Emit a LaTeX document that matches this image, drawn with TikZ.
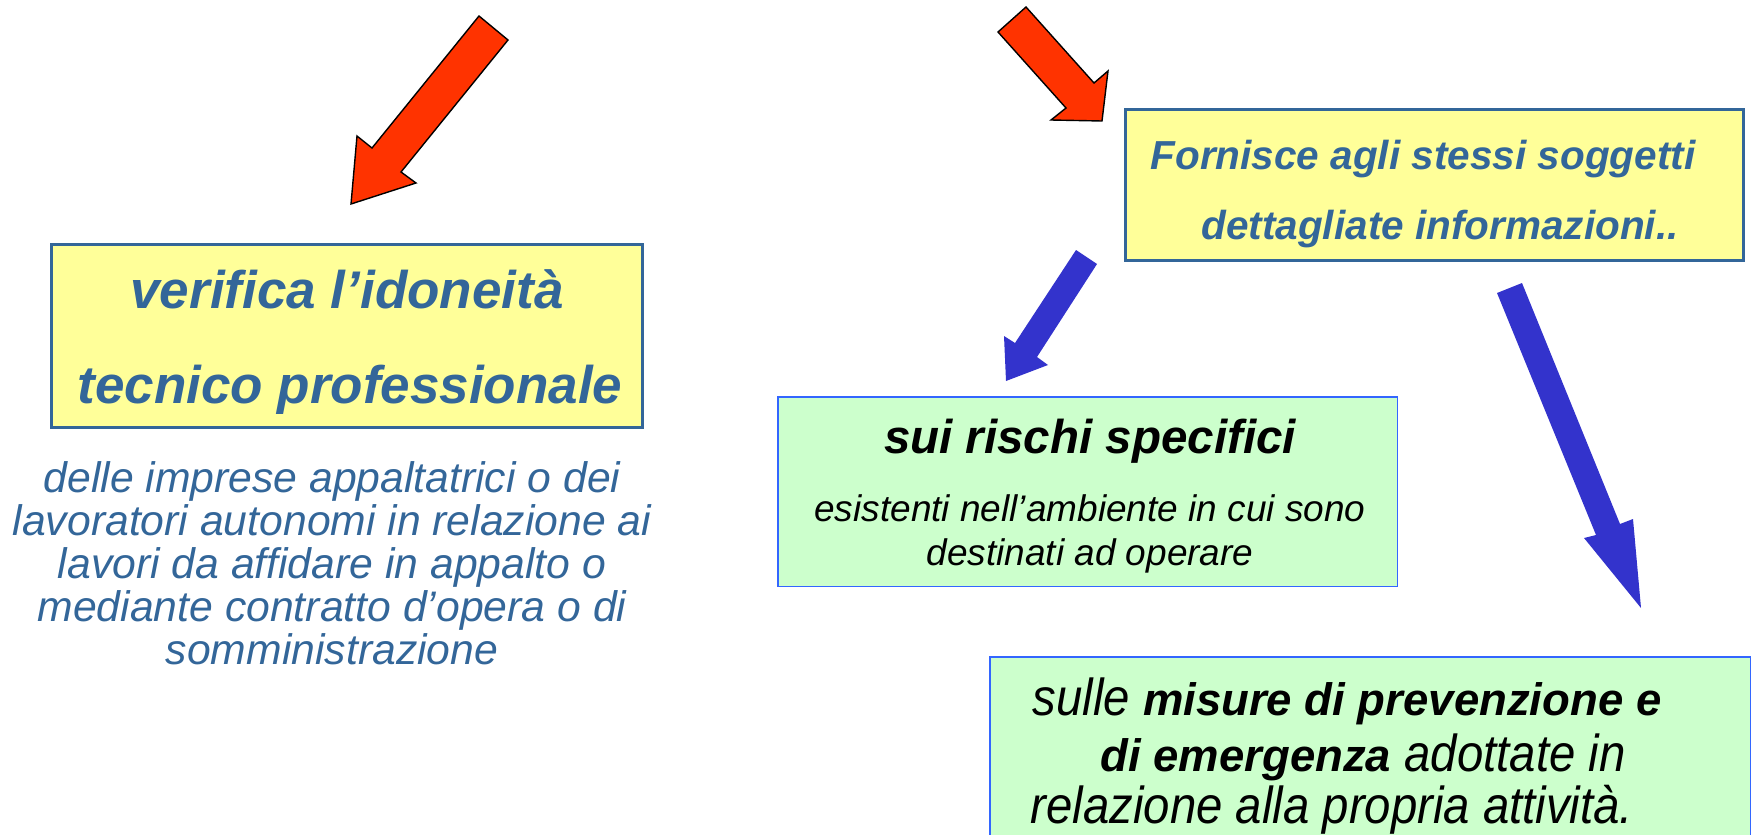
\documentclass[tikz,border=0pt]{standalone}
\usepackage{fontspec}
\setmainfont{Liberation Sans}
\newfontfamily\narrowfont{Liberation Sans}[FakeStretch=0.91]
\definecolor{txtblue}{HTML}{336699}
\definecolor{ybord}{HTML}{336699}
\definecolor{yfill}{HTML}{FFFF99}
\definecolor{gfill}{HTML}{CCFFCC}
\definecolor{gbord}{HTML}{3366FF}
\definecolor{redarrow}{HTML}{FF3300}
\definecolor{bluearrow}{HTML}{3333CC}
\newcommand{\gboldfont}{\fontsize{45.5}{50}\selectfont\rmfamily\bfseries\itshape}
\begin{document}
\begin{tikzpicture}[x=1pt,y=-1pt,
  ybox/.style={draw=ybord,line width=3pt,fill=yfill,rectangle,inner sep=0pt},
  gbox/.style={draw=gbord,line width=1.5pt,fill=gfill,rectangle,inner sep=0pt},
  redarr/.style={fill=redarrow,draw=black,line width=1.4pt,line join=miter},
  bluearr/.style={fill=bluearrow,draw=none},
  txt/.style={inner sep=0pt,anchor=base},
  ytitle/.style={txt,text=txtblue,font=\fontsize{53}{60}\selectfont\bfseries\itshape},
  ytitleb/.style={txt,text=txtblue,font=\fontsize{40.5}{46}\selectfont\bfseries\itshape},
  ltext/.style={txt,text=txtblue,font=\fontsize{42.7}{43}\selectfont\itshape},
  gtitle/.style={txt,text=black,font=\fontsize{47.5}{52}\selectfont\bfseries\itshape},
  gsub/.style={txt,text=black,font=\fontsize{37}{42}\selectfont\itshape},
  gtext/.style={txt,text=black,font=\fontsize{52}{56}\selectfont\narrowfont\itshape}
]
\useasboundingbox (0,0) rectangle (1753,835);

% arrows
\draw[redarr] (479,16) -- (508,40) -- (401,172) -- (416,183) -- (351,204) -- (357,136) -- (372,148) -- cycle;
\draw[redarr] (1026,7) -- (1094,83) -- (1108,71) -- (1102,121) -- (1051,120) -- (1066,108) -- (998,32) -- cycle;
\fill[bluearr] (1076,250) -- (1097,264) -- (1037,357) -- (1048,365) -- (1006,381) -- (1004,336) -- (1015,343) -- cycle;
\fill[bluearr] (1497,293) -- (1522,283) -- (1620,524) -- (1633,519) -- (1641,608) -- (1584,538) -- (1596,535) -- cycle;

% boxes
\node[ybox,minimum width=591pt,minimum height=183pt] (verbox) at (347,336) {};
\node[ybox,minimum width=618pt,minimum height=151pt] (fornbox) at (1434.5,185) {};
\node[gbox,minimum width=619.5pt,minimum height=189.5pt] (riskbox) at (1087.5,491.5) {};
\node[gbox,minimum width=760.5pt,minimum height=242.5pt] (misbox) at (1370,778) {};

% left box text
\node[ytitle] (ver1) at (347,308) {verifica l’idoneità};
\node[ytitle] (ver2) at (350,403) {tecnico professionale};

% left text below
\node[ltext] (l1) at (332,492) {delle imprese appaltatrici o dei};
\node[ltext] (l2) at (332,535) {lavoratori autonomi in relazione ai};
\node[ltext] (l3) at (332,578) {lavori da affidare in appalto o};
\node[ltext] (l4) at (332,621) {mediante contratto d’opera o di};
\node[ltext] (l5) at (332,664) {somministrazione};

% right yellow box text
\node[ytitleb] (f1) at (1423,169) {Fornisce agli stessi soggetti};
\node[ytitleb] (f2) at (1440,239) {dettagliate informazioni..};

% green box 1
\node[gtitle] (r1) at (1090,453) {sui rischi specifici};
\node[gsub] (r2) at (1090,521) {esistenti nell’ambiente in cui sono};
\node[gsub] (r3) at (1090,565) {destinati ad operare};

% green box 2
\node[gtext] (m1) at (1347,715) {sulle {\gboldfont misure di prevenzione e}};
\node[gtext] (m2) at (1363,771) {{\gboldfont di emergenza} adottate in};
\node[gtext] (m3) at (1332,823) {relazione alla propria attività.};
\end{tikzpicture}
\end{document}
